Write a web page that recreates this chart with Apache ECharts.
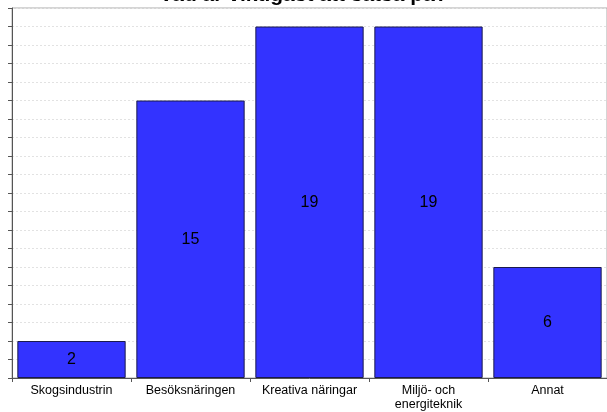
<!DOCTYPE html>
<html><head><meta charset="utf-8">
<script src="https://cdn.jsdelivr.net/npm/echarts@6/dist/echarts.min.js"></script>
<style>html,body{margin:0;padding:0;background:#fff}#c{width:607px;height:412px}</style>
</head><body><div id="c"></div>
<script>
const titleText = "Vad är viktigast att satsa på?";
const categories = ["Skogsindustrin", "Besöksnäringen", "Kreativa näringar", "Miljö- och\nenergiteknik", "Annat"];
const values = [2, 15, 19, 19, 6];
const yMax = 20;

const chart = echarts.init(document.getElementById('c'), null, {renderer: 'canvas'});
chart.setOption({
  animation: false,
  backgroundColor: '#fff',
  title: {text: titleText, left: 'center', top: -20,
    textStyle: {fontFamily: 'Liberation Sans, Arial', fontSize: 21, fontWeight: 'bold', color: '#000'}},
  grid: {left: 12, right: 0, top: 8, bottom: 33, show: true, borderColor: '#aaa', borderWidth: 1},
  xAxis: {type: 'category', data: categories,
    axisLine: {lineStyle: {color: '#555', width: 1}},
    axisTick: {show: true, alignWithLabel: false, length: 4, lineStyle: {color: '#555'}},
    axisLabel: {color: '#000', fontFamily: 'Liberation Sans, Arial', fontSize: 12.5, lineHeight: 14, margin: 6, interval: 0}},
  yAxis: {type: 'value', min: 0, max: yMax, interval: 1,
    axisLine: {show: true, lineStyle: {color: '#555', width: 1}},
    axisTick: {show: true, length: 4, lineStyle: {color: '#555'}},
    axisLabel: {show: false},
    splitLine: {show: true, lineStyle: {color: '#e2e2e2', width: 1, type: [2, 2]}}},
  series: [{type: 'bar', data: values, barCategoryGap: '9%',
    itemStyle: {color: '#3333ff', borderColor: '#1a1a4d', borderWidth: 1},
    label: {show: true, position: 'inside', color: '#000', fontFamily: 'Liberation Sans, Arial', fontSize: 16}}]
});
</script></body></html>
